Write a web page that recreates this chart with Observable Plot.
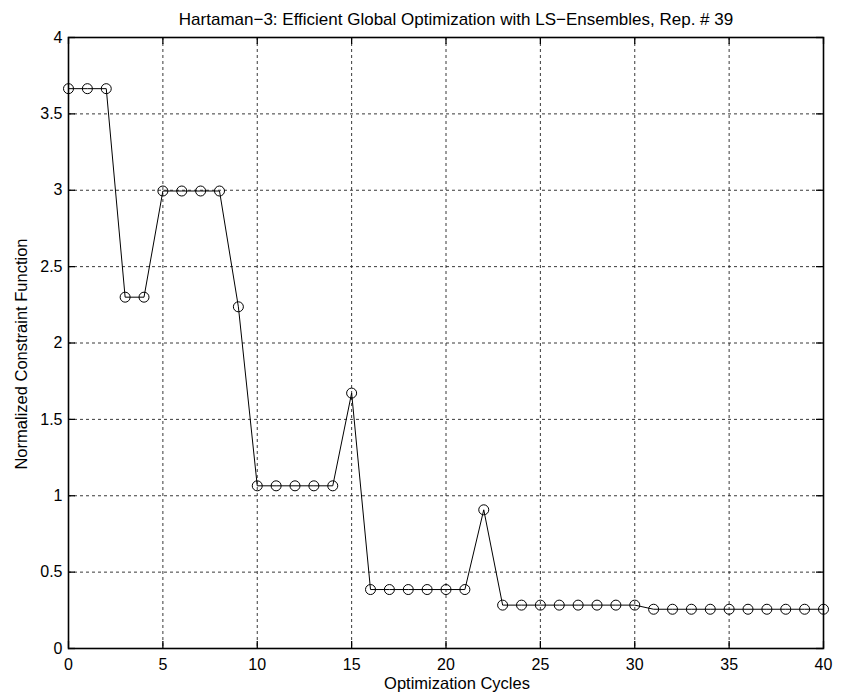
<!DOCTYPE html>
<html>
<head>
<meta charset="utf-8">
<script src="https://cdn.jsdelivr.net/npm/d3@7"></script>
<script src="https://cdn.jsdelivr.net/npm/@observablehq/plot@0.6"></script>
<style>
  html, body { margin: 0; padding: 0; background: #fff; }
  #chart svg { display: block; font-family: "Liberation Sans", Arial, Helvetica, sans-serif; }
</style>
</head>
<body>
<div id="chart"></div>
<script>
const titleText = "Hartaman\u22123: Efficient Global Optimization with LS\u2212Ensembles, Rep. # 39";
const xLabelText = "Optimization Cycles";
const yLabelText = "Normalized Constraint Function";

const cycles = [0, 1, 2, 3, 4, 5, 6, 7, 8, 9, 10, 11, 12, 13, 14, 15, 16, 17, 18, 19, 20,
                21, 22, 23, 24, 25, 26, 27, 28, 29, 30, 31, 32, 33, 34, 35, 36, 37, 38, 39, 40];
const values = [3.665, 3.665, 3.665, 2.30, 2.30, 2.995, 2.995, 2.995, 2.995, 2.237,
                1.065, 1.065, 1.065, 1.065, 1.065, 1.672,
                0.386, 0.386, 0.386, 0.386, 0.386, 0.386, 0.908,
                0.284, 0.284, 0.284, 0.284, 0.284, 0.284, 0.284, 0.284,
                0.257, 0.257, 0.257, 0.257, 0.257, 0.257, 0.257, 0.257, 0.257, 0.257];

const xTicks = [0, 5, 10, 15, 20, 25, 30, 35, 40];
const yTicks = [0, 0.5, 1, 1.5, 2, 2.5, 3, 3.5, 4];

const data = cycles.map((c, i) => ({cycle: c, value: values[i]}));

const W = 842, H = 697;
const mL = 68, mR = 19, mT = 37, mB = 49;
const innerW = W - mL - mR, innerH = H - mT - mB;
const tickLen = 7;
const gridStyle = {stroke: "#222", strokeWidth: 0.9, strokeDasharray: "3,3"};

const chart = Plot.plot({
  width: W,
  height: H,
  marginLeft: mL,
  marginRight: mR,
  marginTop: mT,
  marginBottom: mB,
  style: {fontFamily: '"Liberation Sans", Arial, Helvetica, sans-serif', background: "#fff", color: "#000"},
  x: {domain: [0, 40], axis: null},
  y: {domain: [0, 4], axis: null},
  marks: [
    Plot.ruleX(xTicks, {x: d => d, ...gridStyle}),
    Plot.ruleY(yTicks, {y: d => d, ...gridStyle}),
    Plot.tickX(xTicks, {x: d => d, insetTop: innerH - tickLen, stroke: "#000", strokeWidth: 1.3}),
    Plot.tickX(xTicks, {x: d => d, insetBottom: innerH - tickLen, stroke: "#000", strokeWidth: 1.3}),
    Plot.tickY(yTicks, {y: d => d, insetRight: innerW - tickLen, stroke: "#000", strokeWidth: 1.3}),
    Plot.tickY(yTicks, {y: d => d, insetLeft: innerW - tickLen, stroke: "#000", strokeWidth: 1.3}),
    Plot.axisX({ticks: xTicks, tickSize: 0, tickPadding: 10, tickFormat: d => `${d}`, label: null, fontSize: 16, anchor: "bottom"}),
    Plot.axisY({ticks: yTicks, tickSize: 0, tickPadding: 6, tickFormat: d => `${d}`, label: null, fontSize: 16, anchor: "left"}),
    Plot.line(data, {x: "cycle", y: "value", stroke: "#000", strokeWidth: 1}),
    Plot.dot(data, {x: "cycle", y: "value", r: 5, stroke: "#000", fill: "none", strokeWidth: 1}),
    Plot.frame({stroke: "#000", strokeWidth: 1.6}),
    Plot.text([titleText], {frameAnchor: "top", textAnchor: "middle", lineAnchor: "bottom", dx: 10, dy: -13, fontSize: 17, fill: "#000"}),
    Plot.text([xLabelText], {frameAnchor: "bottom", textAnchor: "middle", lineAnchor: "bottom", dx: 11, dy: 40, fontSize: 16.5, fill: "#000"}),
    Plot.text([yLabelText], {frameAnchor: "left", textAnchor: "middle", lineAnchor: "bottom", rotate: -90, dx: -41.5, dy: 11, fontSize: 16.5, fill: "#000"})
  ]
});

document.getElementById("chart").appendChild(chart);
</script>
</body>
</html>
